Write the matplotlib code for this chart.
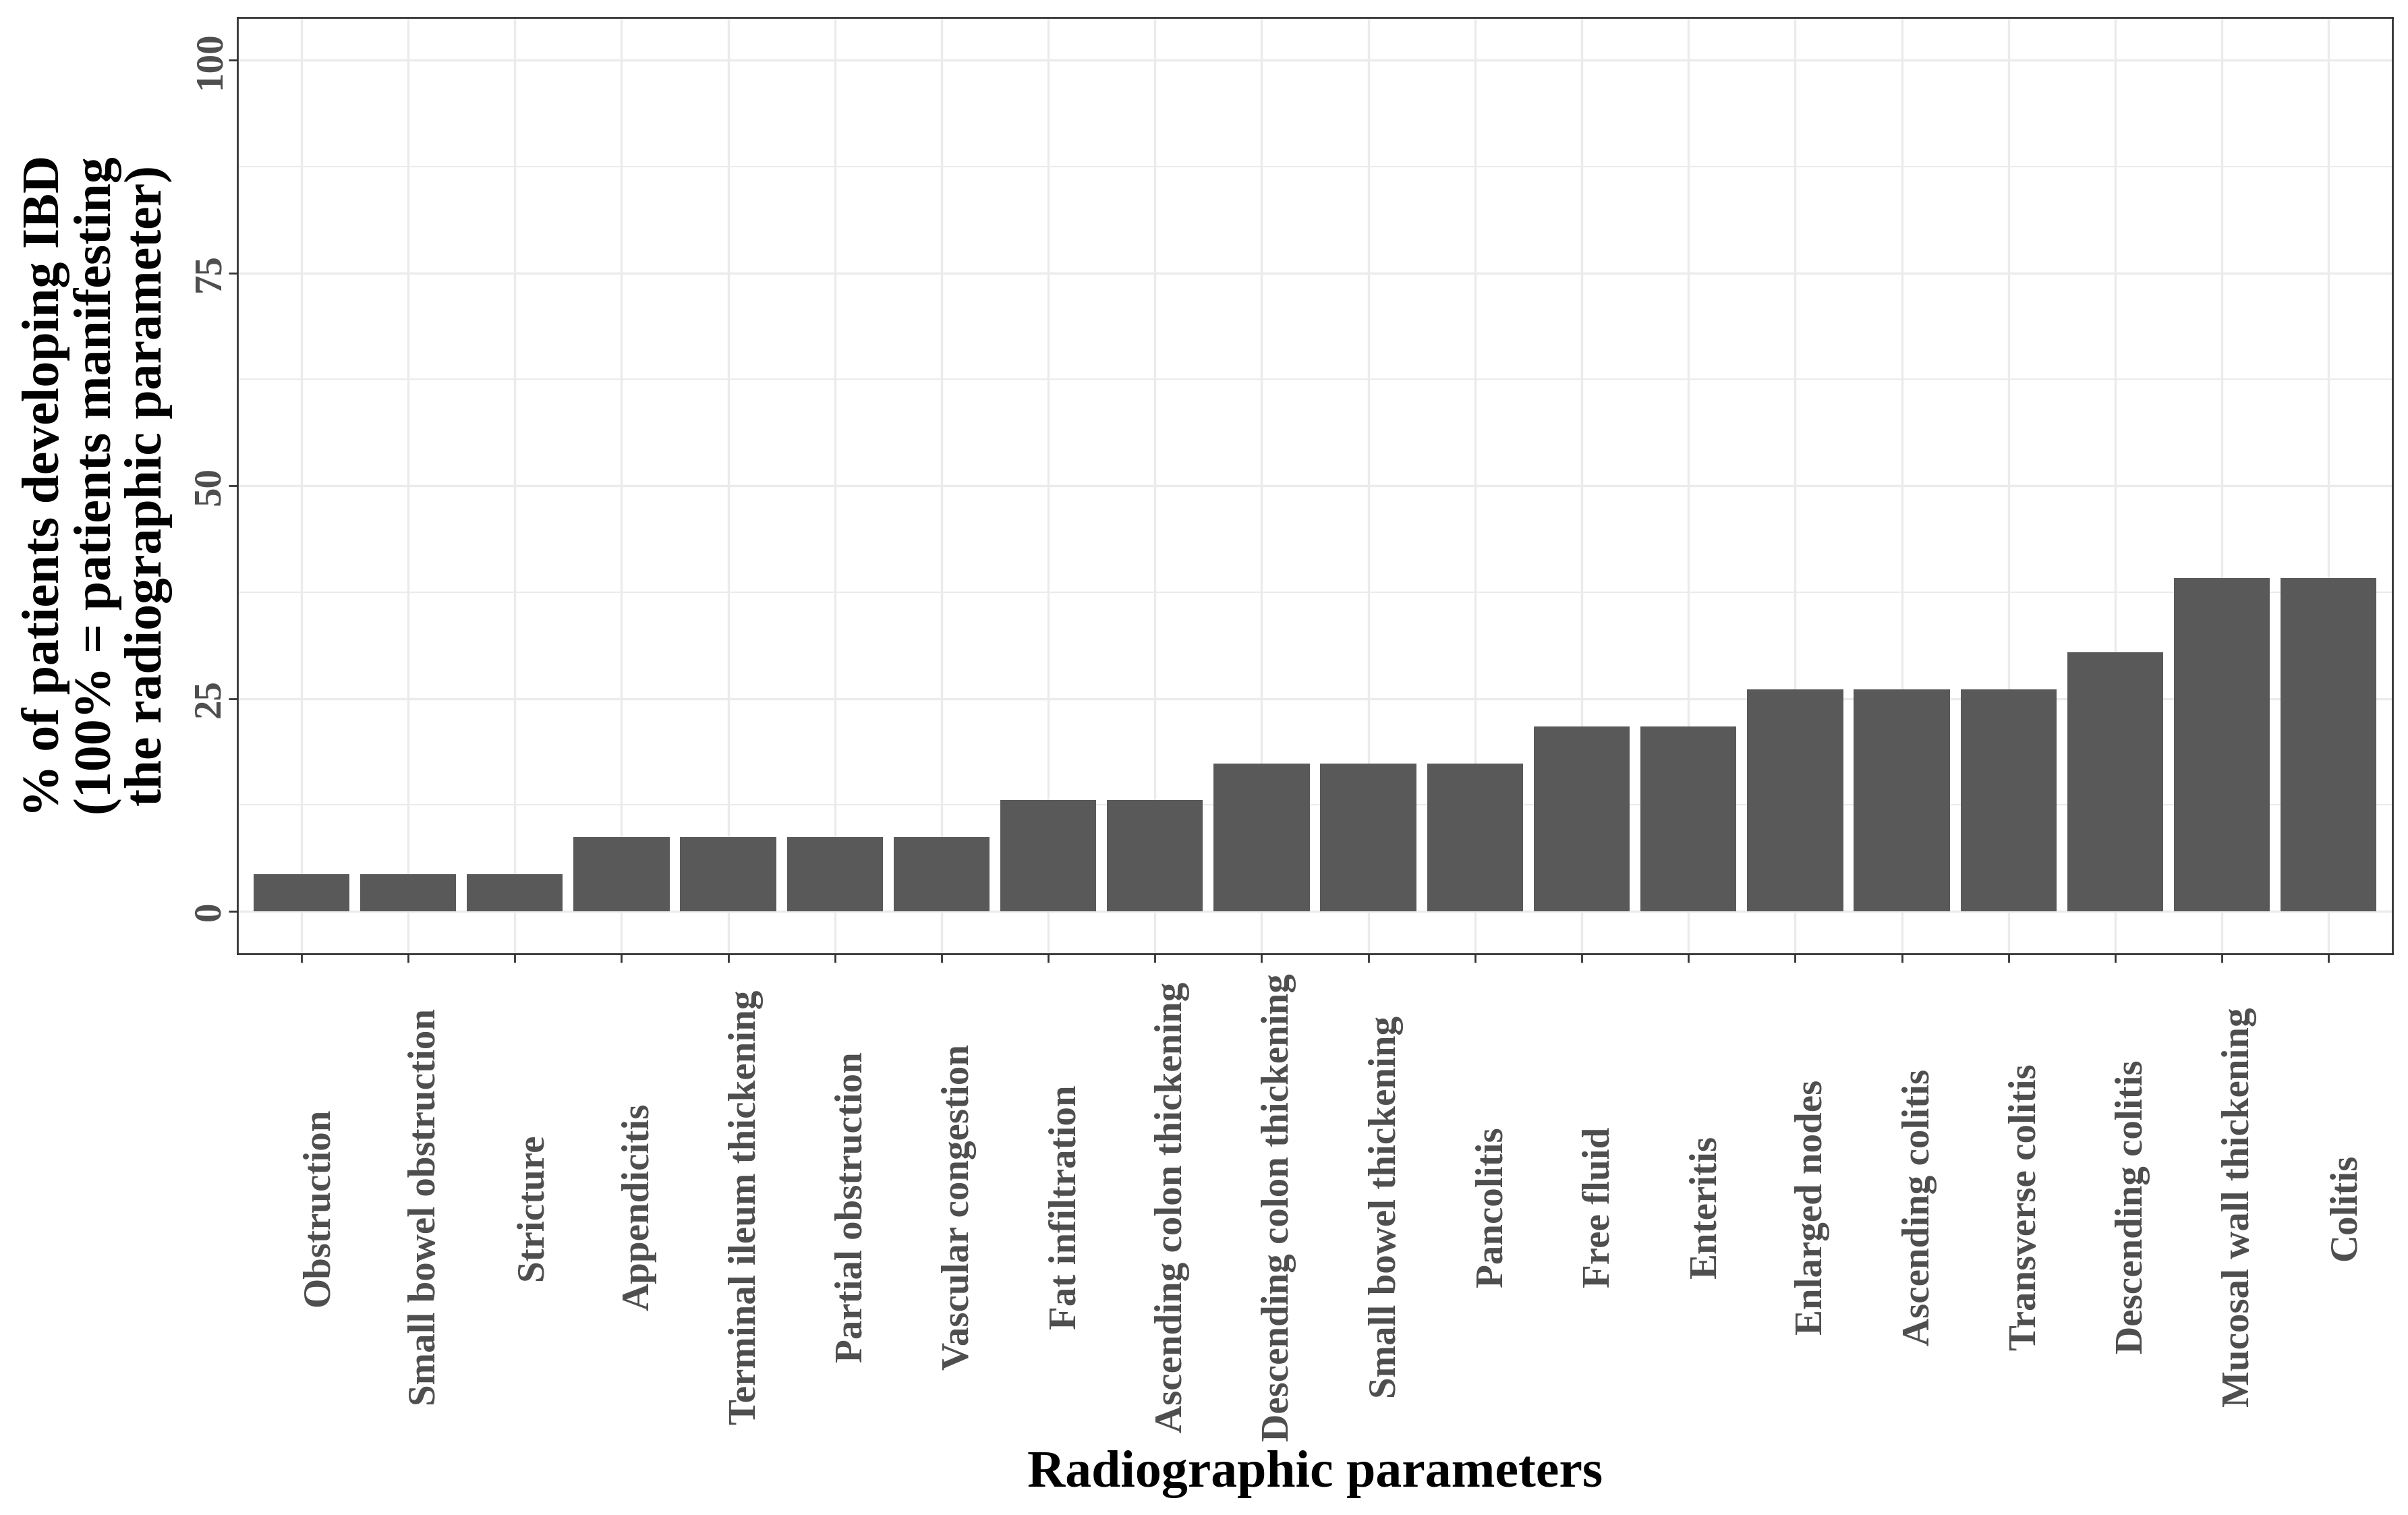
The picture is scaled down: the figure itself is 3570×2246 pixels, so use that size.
import numpy as np
import matplotlib
matplotlib.use("Agg")
import matplotlib.pyplot as plt
from matplotlib.ticker import MultipleLocator

# data: % of patients developing IBD per radiographic parameter
parameters = ["Obstruction", "Small bowel obstruction", "Stricture", "Appendicitis",
              "Terminal ileum thickening", "Partial obstruction", "Vascular congestion",
              "Fat infiltration", "Ascending colon thickening", "Descending colon thickening",
              "Small bowel thickening", "Pancolitis", "Free fluid", "Enteritis",
              "Enlarged nodes", "Ascending colitis", "Transverse colitis",
              "Descending colitis", "Mucosal wall thickening", "Colitis"]
pct_ibd = [4.35, 4.35, 4.35, 8.70, 8.70, 8.70, 8.70, 13.04, 13.04, 17.39,
           17.39, 17.39, 21.74, 21.74, 26.09, 26.09, 26.09, 30.43, 39.13, 39.13]
y_ticks = [0, 25, 50, 75, 100]

# style
plt.rcParams['font.family'] = ['Liberation Serif', 'DejaVu Serif']
plt.rcParams['font.weight'] = 'bold'
bar_color = '#595959'
grid_color = '#ebebeb'
axis_color = '#333333'
tick_text_color = '#4d4d4d'

fig = plt.figure(figsize=(35.7, 22.46), dpi=100)
ax = fig.add_axes([0.0986, 0.3704, 0.8950, 0.6180])

x = np.arange(len(parameters))
ax.bar(x, pct_ibd, width=0.9, color=bar_color, zorder=2)

# axes limits (ggplot-like expansion)
ax.set_xlim(-0.6, len(parameters) - 0.4)
ax.set_ylim(-5, 105)

# grid
ax.set_axisbelow(True)
ax.yaxis.set_major_locator(MultipleLocator(25))
ax.yaxis.set_minor_locator(MultipleLocator(12.5))
ax.grid(which='major', axis='both', color=grid_color, linewidth=2.4, zorder=0)
ax.grid(which='minor', axis='y', color=grid_color, linewidth=1.4, zorder=0)

# spines
for sp in ax.spines.values():
    sp.set_color(axis_color)
    sp.set_linewidth(2)

# ticks
ax.set_yticks(y_ticks)
ax.set_yticklabels([str(v) for v in y_ticks], rotation=90, va='center', ha='right')
ax.tick_params(axis='y', which='major', length=9.4, width=2, color=axis_color,
               labelsize=41, labelcolor=tick_text_color, pad=1)
ax.tick_params(axis='y', which='minor', length=0)

ax.set_xticks(x)
ax.set_xticklabels(parameters, rotation=90, ha='left', va='center')
ax.tick_params(axis='x', length=9.4, width=2, color=axis_color,
               labelsize=41, labelcolor=tick_text_color, pad=261)

# axis titles
ax.set_xlabel("Radiographic parameters", fontsize=56, fontweight='bold', color='black', va='center')
ax.xaxis.set_label_coords(0.5, -0.5555)
ax.set_ylabel("% of patients developing IBD\n(100% = patients manifesting\nthe radiographic parameter)",
              fontsize=56, fontweight='bold', color='black', va='center', ha='center',
              multialignment='center', linespacing=1.08)
ax.yaxis.set_label_coords(-0.0650, 0.5)

fig.savefig("out.png", dpi=100, facecolor='white')
